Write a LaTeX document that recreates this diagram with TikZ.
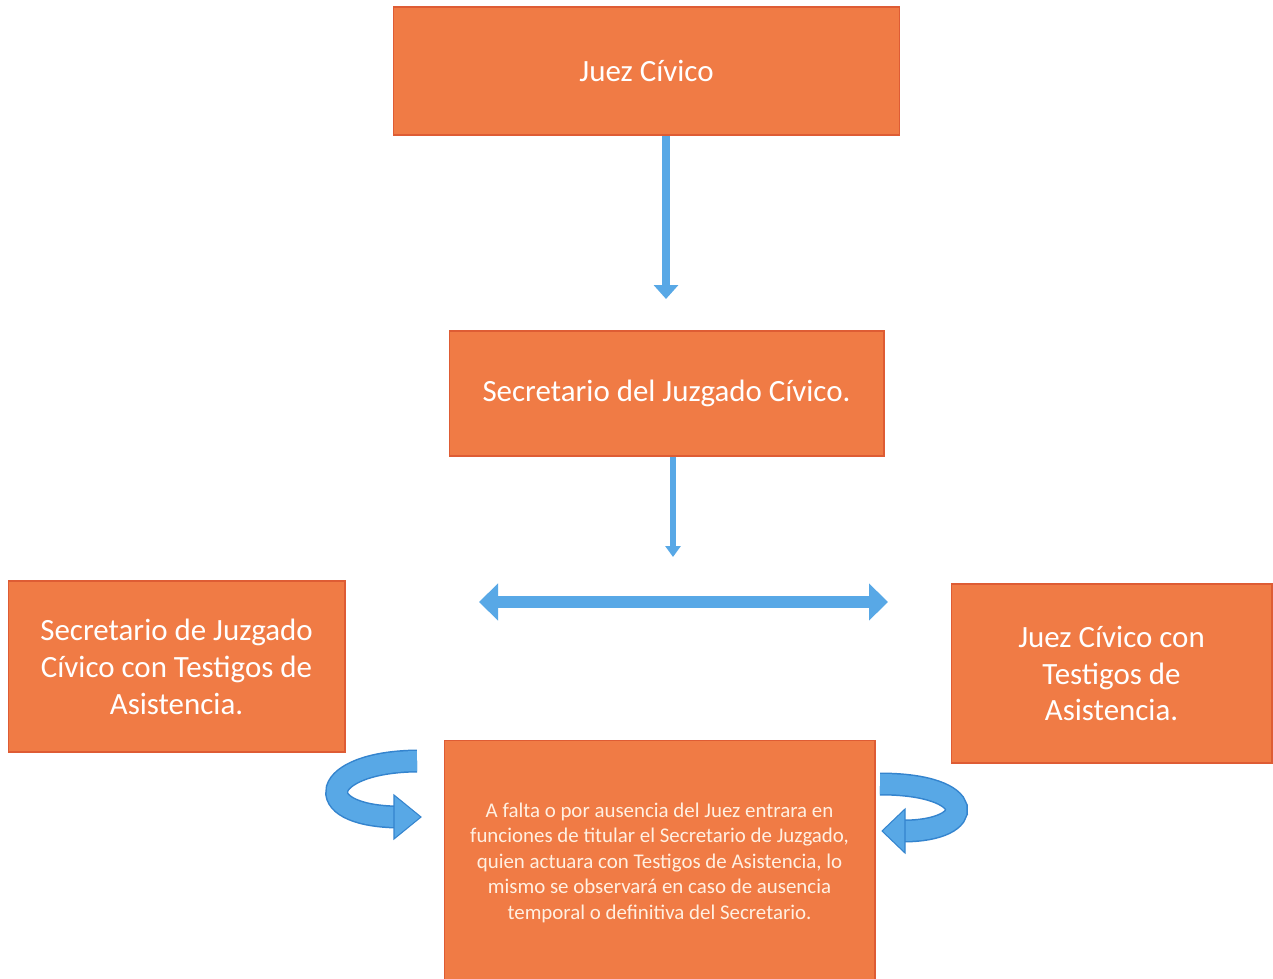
\documentclass[tikz,border=0pt]{standalone}
\usepackage{fontspec}
\setmainfont{Carlito}
\usepackage{tikz}
\usetikzlibrary{arrows.meta}
\definecolor{boxorange}{RGB}{240,123,69}
\definecolor{boxedge}{RGB}{222,92,52}
\definecolor{arrowblue}{RGB}{88,168,230}
\definecolor{arrowedge}{RGB}{52,132,206}
\definecolor{paletext}{RGB}{255,240,226}
\tikzset{
	orangebox/.style={draw=boxedge, line width=0.6pt, fill=boxorange, text=white, align=center, inner sep=0pt},
	bigtext/.style={font=\fontsize{17.6}{21}\selectfont},
	smalltext/.style={font=\fontsize{11.9}{14.5}\selectfont, text=paletext},
	bluearrow/.style={color=arrowblue, line cap=butt},
	curvedband/.style={line width=0.46cm, color=arrowedge, postaction={draw=arrowblue, line width=0.40cm}},
	curvedhead/.style={fill=arrowblue, draw=arrowedge, line width=0.6pt, line join=miter}
}

\begin{document}
\begin{tikzpicture}[x=0.02cm, y=-0.02cm]
			%%%%% START %%%%%
			
			\useasboundingbox[fill=white] (0, 0) rectangle (1273, 979);
			
			\node[orangebox, bigtext, minimum width=10.14cm, minimum height=2.56cm] (juez) at (646.5, 71) {Juez Cívico};
			\node[orangebox, bigtext, minimum width=8.70cm, minimum height=2.50cm] (secjuz) at (666.5, 393.5) {Secretario del Juzgado Cívico.};
			
			\node[orangebox, bigtext, minimum width=6.74cm, minimum height=3.42cm] (sectest) at (176.5, 666.5) {Secretario de Juzgado\\Cívico con Testigos de\\Asistencia.};
			\node[orangebox, bigtext, minimum width=6.42cm, minimum height=3.58cm] (jueztest) at (1111.5, 673.5) {Juez Cívico con\\Testigos de\\Asistencia.};
			
			\node[orangebox, smalltext, minimum width=8.62cm, minimum height=4.90cm] (ausencia) at (659.5, 862.5) {A falta o por ausencia del Juez entrara en\\funciones de titular el Secretario de Juzgado,\\quien actuara con Testigos de Asistencia, lo\\mismo se observará en caso de ausencia\\temporal o definitiva del Secretario.};
			
			% straight arrows
			\coordinate (a1tip) at (666, 299);
			\draw[bluearrow, line width=0.16cm, -{Triangle[width=0.48cm, length=0.28cm]}] (juez.south -| a1tip) -- (a1tip);
			
			\coordinate (a2tip) at (673, 557);
			\draw[bluearrow, line width=0.12cm, -{Triangle[width=0.30cm, length=0.22cm]}] (secjuz.south -| a2tip) -- (a2tip);
			
			\coordinate (dleft) at (479, 602);
			\coordinate (dright) at (888, 602);
			\draw[bluearrow, line width=0.24cm, {Triangle[width=0.72cm, length=0.38cm]}-{Triangle[width=0.72cm, length=0.38cm]}] (dleft) -- (dright);
			
			% curved arrows
			\coordinate (lcurvea) at (417, 761);
			\coordinate (lcurveb) at (396, 817);
			\draw[curvedband] (lcurvea) .. controls (320, 762) and (308, 815) .. (lcurveb);
			\draw[curvedhead] (394, 795) -- (421, 817) -- (394, 839) -- cycle;
			
			\coordinate (rcurvea) at (880, 784);
			\coordinate (rcurveb) at (903, 831);
			\draw[curvedband] (rcurvea) .. controls (978, 784) and (978, 831) .. (rcurveb);
			\draw[curvedhead] (905, 809) -- (882, 831) -- (905, 853) -- cycle;
			
			%%%%% END %%%%%
\end{tikzpicture}
\end{document}
